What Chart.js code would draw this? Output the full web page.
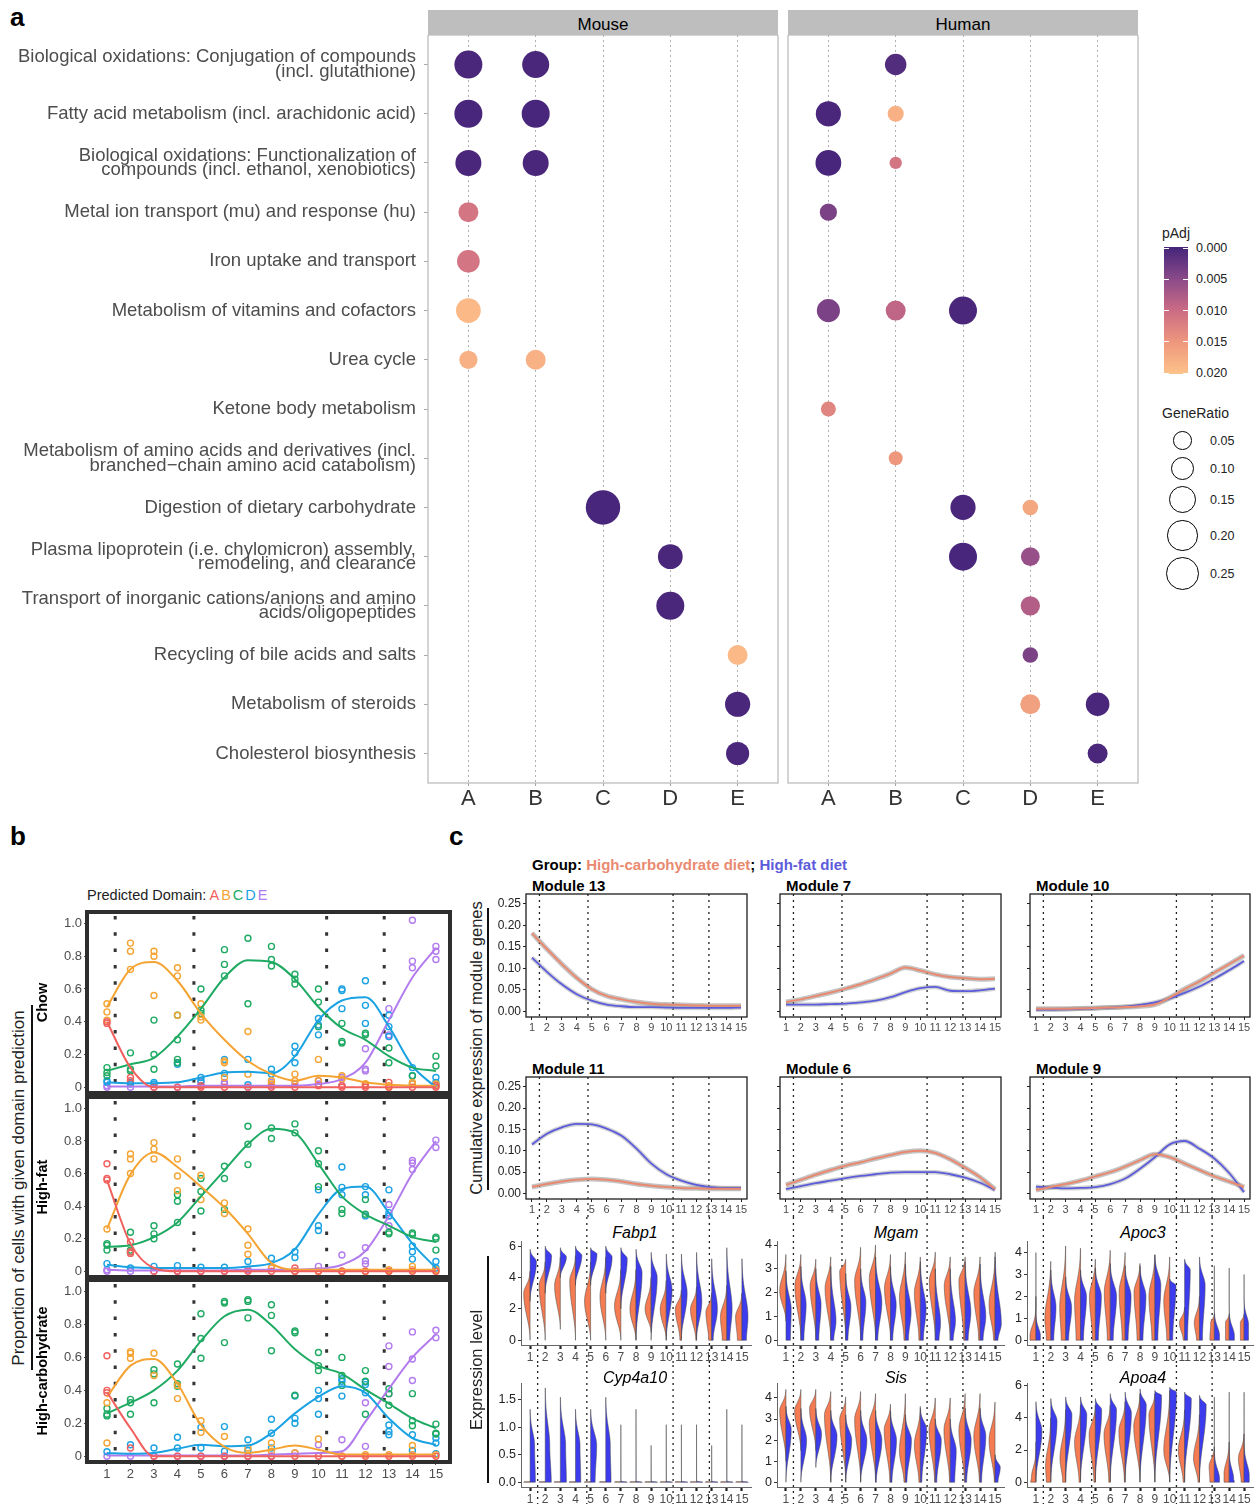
<!DOCTYPE html>
<html>
<head>
<meta charset="utf-8">
<script src="https://cdn.jsdelivr.net/npm/chart.js@4.4.1/dist/chart.umd.min.js"></script>
<style>
  body { margin: 0; width: 1254px; height: 1504px; background: #fff; position: relative; overflow: hidden; font-family: "Liberation Sans", Arial, sans-serif; color: #000; }
  canvas { position: absolute; }
  .t { position: absolute; white-space: nowrap; line-height: 1; }
</style>
</head>
<body>
<script>
// ---------- panel a: pathway enrichment ----------
const pathways = [
  ['Biological oxidations: Conjugation of compounds', '(incl. glutathione)'],
  'Fatty acid metabolism (incl. arachidonic acid)',
  ['Biological oxidations: Functionalization of', 'compounds (incl. ethanol, xenobiotics)'],
  'Metal ion transport (mu) and response (hu)',
  'Iron uptake and transport',
  'Metabolism of vitamins and cofactors',
  'Urea cycle',
  'Ketone body metabolism',
  ['Metabolism of amino acids and derivatives (incl.', 'branched\u2212chain amino acid catabolism)'],
  'Digestion of dietary carbohydrate',
  ['Plasma lipoprotein (i.e. chylomicron) assembly,', 'remodeling, and clearance'],
  ['Transport of inorganic cations/anions and amino', 'acids/oligopeptides'],
  'Recycling of bile acids and salts',
  'Metabolism of steroids',
  'Cholesterol biosynthesis'
];
const domains = ['A', 'B', 'C', 'D', 'E'];

const mouseRow = [1, 1, 2, 2, 3, 3, 4, 5, 6, 7, 7, 10, 11, 12, 13, 14, 15];
const mouseDomain = ['A', 'B', 'A', 'B', 'A', 'B', 'A', 'A', 'A', 'A', 'B', 'C', 'D', 'D', 'E', 'E', 'E'];
const mouseGeneRatio = [0.148, 0.134, 0.148, 0.148, 0.120, 0.120, 0.053, 0.079, 0.104, 0.039, 0.053, 0.258, 0.104, 0.148, 0.053, 0.109, 0.085];
const mousePAdj = [0.0004, 0.0004, 0.0003, 0.0003, 0.0004, 0.0004, 0.011, 0.011, 0.019, 0.018, 0.018, 0.0002, 0.0004, 0.0004, 0.019, 0.0004, 0.0004];

const humanRow = [1, 2, 2, 3, 3, 4, 6, 6, 6, 8, 9, 10, 10, 11, 11, 12, 13, 14, 14, 15];
const humanDomain = ['B', 'A', 'B', 'A', 'B', 'A', 'A', 'B', 'C', 'A', 'B', 'C', 'D', 'C', 'D', 'D', 'D', 'D', 'E', 'E'];
const humanGeneRatio = [0.067, 0.109, 0.024, 0.117, 0.007, 0.031, 0.085, 0.053, 0.148, 0.018, 0.013, 0.109, 0.021, 0.148, 0.043, 0.048, 0.021, 0.053, 0.090, 0.053];
const humanPAdj = [0.001, 0.0004, 0.018, 0.0003, 0.011, 0.004, 0.004, 0.009, 0.0004, 0.013, 0.015, 0.0004, 0.017, 0.0003, 0.006, 0.008, 0.004, 0.016, 0.0004, 0.0004];

const padjBreaks = [0, 0.005, 0.010, 0.015, 0.020];
const padjColors = ['#44247a', '#8a4a89', '#cc6c84', '#ee977d', '#fdc28a'];
const geneRatioBreaks = [0.05, 0.10, 0.15, 0.20, 0.25];

// ---------- panel b: domain proportions ----------
const clusters = [1, 2, 3, 4, 5, 6, 7, 8, 9, 10, 11, 12, 13, 14, 15];
const domainColors = ['#f0605d', '#f5a433', '#1faa63', '#1aa2e3', '#b27bee'];
const boundariesB = [1.35, 4.7, 10.35, 12.8];

const chowPtsA = [[0.40, 0.39], [0.06, 0.04], [0], [0], [0, 0.01], [0], [0], [0], [0], [0.01], [0.01, 0], [0, 0.01], [0.03, 0], [0], [0.01, 0]];
const chowPtsB = [[0.51, 0.46, 0.41], [0.88, 0.83, 0.72], [0.83, 0.80, 0.56], [0.73, 0.68, 0.44], [0.51, 0.43, 0.41], [0.16, 0.15, 0.06], [0.34, 0.08], [0.04, 0.02], [0.08, 0.04], [0.17, 0.04], [0.07, 0.05], [0.02, 0.02], [0.01, 0], [0.03, 0.02], [0.02, 0.01]];
const chowPtsC = [[0.12, 0.09, 0.07], [0.21, 0.11, 0.10], [0.41, 0.20, 0.11], [0.44, 0.29, 0.17, 0.15], [0.60, 0.47, 0.45], [0.84, 0.75, 0.68], [0.91, 0.51], [0.86, 0.78, 0.74], [0.69, 0.66, 0.63], [0.60, 0.52, 0.37], [0.39, 0.28, 0.27], [0.33, 0.32], [0.24, 0.15], [0.07], [0.19, 0.13]];
const chowPtsD = [[0.04, 0.03], [0.02, 0.03], [0.03, 0.02], [0.15, 0.14], [0.04, 0.06], [0.17, 0.085], [0.17, 0.015], [0.11, 0.08], [0.25, 0.21, 0.15], [0.42, 0.38, 0.32], [0.60, 0.59, 0.48], [0.65, 0.50, 0.39], [0.44, 0.37, 0.31], [0.12, 0.07, 0.02], [0.06, 0.03, 0.01]];
const chowPtsE = [[0, 0.01], [0], [0], [0], [0.03, 0.01], [0.03, 0.02], [0], [0.03, 0.01], [0.02], [0.04, 0.02], [0.06, 0.01], [0.235, 0.11, 0.10], [0.48, 0.32, 0.31], [1.02, 0.77, 0.73], [0.86, 0.83, 0.78]];
const chowFitA = [0.40, 0.12, 0, 0, 0, 0, 0, 0, 0, 0, 0, 0, 0, 0, 0];
const chowFitB = [0.49, 0.72, 0.765, 0.65, 0.45, 0.29, 0.16, 0.08, 0.04, 0.07, 0.06, 0.03, 0.015, 0.01, 0.01];
const chowFitC = [0.10, 0.14, 0.18, 0.31, 0.48, 0.67, 0.775, 0.765, 0.66, 0.49, 0.36, 0.29, 0.19, 0.12, 0.10];
const chowFitD = [0.03, 0.025, 0.025, 0.03, 0.06, 0.09, 0.095, 0.085, 0.19, 0.41, 0.53, 0.55, 0.37, 0.13, 0];
const chowFitE = [0.005, 0.005, 0.005, 0.005, 0.01, 0.01, 0.01, 0.01, 0.01, 0.02, 0.05, 0.15, 0.41, 0.67, 0.85];

const hfPtsA = [[0.66, 0.57, 0.56], [0.18, 0.12, 0.11], [0], [0], [0], [0], [0], [0], [0.02, 0], [0], [0], [0], [0], [0], [0]];
const hfPtsB = [[0.26], [0.72, 0.69, 0.60], [0.79, 0.75, 0.69], [0.69, 0.585, 0.495], [0.59, 0.44], [0.42, 0.355], [0.26, 0.16, 0.105], [0.02], [0], [0], [0], [0], [0.01, 0], [0.03, 0.01], [0.01, 0]];
const hfPtsC = [[0.17, 0.16, 0.13], [0.24, 0.13, 0.12], [0.28, 0.23, 0.20], [0.47, 0.43, 0.30], [0.57, 0.49, 0.37], [0.645, 0.57, 0.38], [0.89, 0.78, 0.655], [0.88, 0.815], [0.905, 0.85], [0.74, 0.66, 0.52], [0.38, 0.355], [0.44, 0.35], [0.24, 0.23], [0.235, 0.225], [0.21, 0.20, 0.13]];
const hfPtsD = [[0.047], [0.02], [0.03], [0.035], [0.025], [0.025], [0.06], [0.08], [0.12, 0.085], [0.50, 0.28, 0.25], [0.64, 0.515, 0.47], [0.52, 0.47, 0.34], [0.50, 0.36, 0.34], [0.155, 0.12, 0.075], [0.06, 0.02]];
const hfPtsE = [[0, 0.01], [0], [0], [0], [0], [0], [0.01], [0.02], [0], [0.03], [0.10, 0], [0.145, 0.065, 0.045], [0.41, 0.34, 0.28], [0.68, 0.665, 0.625], [0.805, 0.76]];
const hfFitA = [0.56, 0.17, 0.02, 0, 0, 0, 0, 0, 0, 0, 0, 0, 0, 0, 0];
const hfFitB = [0.26, 0.595, 0.73, 0.64, 0.52, 0.39, 0.23, 0.05, 0.01, 0.01, 0.01, 0.01, 0.01, 0.01, 0.01];
const hfFitC = [0.15, 0.16, 0.21, 0.30, 0.46, 0.62, 0.78, 0.875, 0.85, 0.66, 0.46, 0.35, 0.28, 0.21, 0.18];
const hfFitD = [0.04, 0.025, 0.02, 0.02, 0.02, 0.02, 0.03, 0.05, 0.135, 0.35, 0.505, 0.52, 0.36, 0.17, 0.02];
const hfFitE = [0.01, 0.005, 0.005, 0.005, 0.005, 0.005, 0.01, 0.01, 0.01, 0.015, 0.04, 0.125, 0.34, 0.60, 0.80];

const hcPtsA = [[0.61, 0.40, 0.385], [0.05], [0], [0], [0], [0], [0], [0], [0], [0], [0], [0], [0], [0], [0]];
const hcPtsB = [[0.325, 0.08], [0.635, 0.625, 0.595], [0.625, 0.49], [0.43, 0.35], [0.215, 0.145], [0.12], [0.05], [0.08, 0.03], [0.02], [0.105], [0], [0.01], [0.01], [0.065, 0.01], [0.01]];
const hcPtsC = [[0.29, 0.255, 0.245], [0.345, 0.325, 0.255], [0.525, 0.50, 0.325], [0.56, 0.44, 0.425], [0.865, 0.715, 0.595], [0.94, 0.93, 0.69], [0.95, 0.94, 0.84], [0.92, 0.855, 0.64], [0.76, 0.75, 0.37], [0.63, 0.55, 0.52], [0.60, 0.49, 0.43], [0.52, 0.455, 0.255], [0.41, 0.38, 0.31], [0.38, 0.215, 0.185], [0.195, 0.14, 0.135]];
const hcPtsD = [[0.027], [0.07], [0.05], [0.115, 0.05], [0.175, 0.05], [0.18, 0.03], [0.10, 0.035], [0.225, 0.14, 0.05], [0.365, 0.23, 0.20], [0.40, 0.35, 0.255], [0.47, 0.455, 0.365], [0.45, 0.435, 0.385], [0.19, 0.15, 0.13], [0.13, 0.035], [0.11, 0.08, 0.015]];
const hcPtsE = [[0], [0], [0], [0], [0], [0], [0], [0], [0.02], [0.07], [0.10], [0.325, 0.06], [0.67, 0.545, 0.38], [0.755, 0.59, 0.46], [0.765, 0.72]];
const hcFitA = [0.39, 0.17, 0, 0, 0, 0, 0, 0, 0, 0, 0, 0, 0, 0, 0];
const hcFitB = [0.36, 0.55, 0.59, 0.44, 0.19, 0.057, 0.02, 0.04, 0.065, 0.04, 0.01, 0.01, 0.01, 0.01, 0.01];
const hcFitC = [0.26, 0.325, 0.40, 0.52, 0.70, 0.85, 0.89, 0.795, 0.65, 0.55, 0.50, 0.405, 0.32, 0.23, 0.17];
const hcFitD = [0.02, 0.015, 0.02, 0.045, 0.07, 0.06, 0.065, 0.14, 0.26, 0.36, 0.425, 0.385, 0.23, 0.11, 0.07];
const hcFitE = [0.005, 0.005, 0.005, 0.005, 0.005, 0.005, 0.005, 0.01, 0.015, 0.02, 0.03, 0.21, 0.41, 0.60, 0.74];

// ---------- panel c: module expression ----------
const boundariesC = [1.5, 4.75, 10.45, 12.85];
const mod13HC = [0.182, 0.145, 0.110, 0.078, 0.052, 0.036, 0.028, 0.022, 0.018, 0.016, 0.015, 0.014, 0.013, 0.013, 0.013];
const mod13HF = [0.125, 0.092, 0.063, 0.040, 0.025, 0.016, 0.012, 0.010, 0.010, 0.009, 0.008, 0.008, 0.008, 0.008, 0.009];
const mod7HC = [0.022, 0.028, 0.036, 0.044, 0.053, 0.063, 0.075, 0.088, 0.102, 0.095, 0.086, 0.080, 0.077, 0.075, 0.076];
const mod7HF = [0.016, 0.016, 0.016, 0.017, 0.018, 0.021, 0.025, 0.033, 0.045, 0.054, 0.057, 0.048, 0.047, 0.049, 0.053];
const mod10HC = [0.006, 0.006, 0.006, 0.007, 0.008, 0.009, 0.010, 0.012, 0.016, 0.032, 0.052, 0.070, 0.090, 0.110, 0.130];
const mod10HF = [0.004, 0.004, 0.005, 0.006, 0.007, 0.009, 0.011, 0.015, 0.021, 0.030, 0.043, 0.058, 0.076, 0.096, 0.117];
const mod11HC = [0.015, 0.022, 0.028, 0.032, 0.034, 0.032, 0.028, 0.022, 0.018, 0.015, 0.013, 0.012, 0.011, 0.011, 0.011];
const mod11HF = [0.115, 0.140, 0.155, 0.163, 0.162, 0.152, 0.135, 0.105, 0.070, 0.045, 0.030, 0.020, 0.015, 0.013, 0.013];
const mod6HC = [0.020, 0.032, 0.044, 0.055, 0.065, 0.073, 0.082, 0.090, 0.097, 0.100, 0.095, 0.080, 0.060, 0.038, 0.010];
const mod6HF = [0.010, 0.017, 0.024, 0.030, 0.036, 0.041, 0.045, 0.049, 0.050, 0.050, 0.050, 0.045, 0.037, 0.025, 0.008];
const mod9HC = [0.008, 0.015, 0.022, 0.030, 0.040, 0.050, 0.063, 0.078, 0.092, 0.085, 0.070, 0.055, 0.040, 0.028, 0.015];
const mod9HF = [0.016, 0.014, 0.012, 0.013, 0.015, 0.022, 0.035, 0.058, 0.085, 0.115, 0.123, 0.105, 0.082, 0.048, 0.003];
const moduleTicks = [0, 0.05, 0.10, 0.15, 0.20, 0.25];

// violin halves per cluster: [low, high, mode, width at mode, width at low, (upper spread)]
const fabp1HC = [[0, 4.4, 3.0, 0.42, 0], [0, 5.0, 3.5, 0.40, 0], [0.7, 5.3, 3.5, 0.38, 0], [0, 5.4, 3.8, 0.38, 0], [0, 5.0, 2.5, 0.40, 0], [0, 5.3, 2.8, 0.38, 0], [0, 4.5, 2.2, 0.42, 0], [0, 4.5, 2.0, 0.40, 0], [0.5, 4.0, 2.0, 0.40, 0], [0, 3.8, 2.0, 0.40, 0], [0, 3.2, 2.0, 0.40, 0.10], [0, 3.4, 2.0, 0.40, 0.05], [0, 3.0, 1.8, 0.38, 0.20], [0, 3.5, 1.5, 0.42, 0.30], [0, 3.0, 1.5, 0.42, 0.30]];
const fabp1HF = [[2.5, 5.8, 5.0, 0.42, 0], [3.0, 6.0, 5.4, 0.42, 0], [4.0, 5.9, 5.3, 0.40, 0], [3.5, 6.0, 5.4, 0.42, 0], [3.5, 5.9, 5.5, 0.42, 0], [3.0, 6.0, 5.3, 0.42, 0], [2.0, 5.9, 5.2, 0.42, 0], [0, 5.8, 4.3, 0.40, 0], [0, 5.6, 4.0, 0.40, 0], [0, 5.5, 3.2, 0.38, 0], [0, 5.5, 3.0, 0.38, 0], [0, 5.6, 2.5, 0.35, 0], [0, 5.2, 2.0, 0.38, 0.10], [0, 5.9, 2.0, 0.35, 0.20], [0, 5.2, 1.5, 0.40, 0.30]];
const mgamHC = [[0.8, 3.6, 2.1, 0.42, 0], [0, 3.6, 2.3, 0.40, 0], [0, 3.4, 2.3, 0.38, 0], [0, 3.5, 2.2, 0.38, 0], [0, 3.4, 2.9, 0.40, 0], [0, 3.9, 2.5, 0.40, 0], [0, 4.0, 2.6, 0.42, 0], [0, 3.6, 2.2, 0.40, 0], [0, 3.7, 1.8, 0.40, 0.10], [0, 3.5, 2.0, 0.40, 0.10], [0, 3.7, 2.5, 0.40, 0], [0, 3.5, 2.3, 0.40, 0], [0, 3.5, 2.5, 0.42, 0.10], [0, 3.5, 2.0, 0.42, 0.10], [0, 3.5, 1.5, 0.40, 0.10]];
const mgamHF = [[0, 2.9, 1.3, 0.35, 0.30], [0, 3.1, 1.5, 0.35, 0.20], [0, 3.0, 1.5, 0.35, 0.20], [0, 3.1, 0.8, 0.35, 0.20], [0, 2.8, 1.4, 0.35, 0.15], [0, 3.0, 1.6, 0.35, 0.15], [0, 3.5, 1.6, 0.42, 0.15], [0, 3.1, 1.5, 0.38, 0.15], [0, 3.2, 1.2, 0.38, 0.20], [0, 3.3, 1.3, 0.38, 0.20], [0, 3.0, 0.7, 0.35, 0.25], [0, 3.0, 0.8, 0.35, 0.20], [0, 3.3, 1.2, 0.38, 0.20], [0, 3.2, 1.0, 0.38, 0.20], [0, 3.7, 0.7, 0.42, 0.20]];
const apoc3HC = [[0, 4.0, 0.2, 0.40, 0.40, 0.45], [0, 3.6, 1.0, 0.40, 0.30], [0, 4.3, 1.5, 0.40, 0.30], [0, 4.2, 1.8, 0.40, 0.30], [0, 3.7, 2.0, 0.40, 0.20], [0, 4.1, 2.2, 0.40, 0.20], [0, 4.0, 2.2, 0.40, 0.20], [0, 3.5, 2.2, 0.40, 0.20], [0, 3.9, 2.0, 0.40, 0.20], [0, 3.8, 1.8, 0.40, 0.20], [0, 1.5, 0.8, 0.35, 0.10], [0, 2.0, 0.8, 0.35, 0.20], [0, 1.2, 0.8, 0.25, 0.30], [0, 1.2, 0.8, 0.25, 0.25], [0, 1.2, 0.8, 0.25, 0.25]];
const apoc3HF = [[0, 2.0, 0.2, 0.30, 0.30, 0.35], [0, 3.2, 1.5, 0.35, 0.20], [0, 2.9, 1.5, 0.40, 0.20], [0, 3.2, 2.0, 0.40, 0.20], [0, 3.3, 2.0, 0.40, 0.20], [0, 3.5, 2.0, 0.42, 0.20], [0, 3.4, 2.0, 0.40, 0.20], [0, 3.4, 2.0, 0.40, 0.20], [0, 3.9, 2.5, 0.40, 0.20], [0, 2.8, 2.5, 0.42, 0.20], [0, 3.7, 3.2, 0.38, 0.20], [0, 3.8, 2.5, 0.38, 0.20], [0, 3.4, 0.2, 0.35, 0.35, 0.4], [0, 3.3, 0.2, 0.35, 0.35, 0.4], [0, 3.0, 0.7, 0.30, 0.30, 0.4]];
const cyp4a10HC = clusters.map(() => [0, 0.01, 0, 0.42, 0.42]);
const cyp4a10HF = [[0, 1.33, 0.67, 0.30, 0.35], [0, 1.72, 0.67, 0.30, 0.40], [0, 1.55, 0.67, 0.35, 0.40], [0, 1.33, 0.67, 0.30, 0.35], [0, 1.33, 0.67, 0.40, 0.30], [0, 1.55, 0.67, 0.30, 0.35], [0, 1.05, 0.02, 0.006, 0.42], [0, 1.33, 0.02, 0.006, 0.42], [0, 0.67, 0.02, 0.006, 0.42], [0, 1.05, 0.02, 0.006, 0.42], [0, 1.05, 0.02, 0.006, 0.42], [0, 1.05, 0.02, 0.006, 0.42], [0, 0.67, 0.02, 0.006, 0.42], [0, 1.33, 0.02, 0.006, 0.42], [0, 1.05, 0.02, 0.006, 0.42]];
const sisHC = [[1.0, 4.4, 3.4, 0.42, 0], [1.5, 4.4, 3.4, 0.42, 0], [1.5, 4.4, 3.5, 0.42, 0], [0, 4.3, 3.2, 0.42, 0], [0, 4.05, 3.0, 0.40, 0], [0, 4.3, 3.0, 0.40, 0], [0, 4.2, 2.8, 0.42, 0], [0, 3.7, 2.5, 0.42, 0.05], [0, 4.2, 1.5, 0.40, 0.10], [0, 3.6, 1.8, 0.40, 0.10], [0, 4.0, 2.5, 0.42, 0.05], [0, 4.0, 2.5, 0.42, 0.05], [0, 4.2, 2.5, 0.42, 0.05], [0, 4.2, 2.2, 0.42, 0.05], [0, 3.8, 2.0, 0.40, 0.05]];
const sisHF = [[0, 3.6, 2.5, 0.35, 0], [0, 3.5, 2.0, 0.38, 0], [0.7, 3.5, 2.3, 0.38, 0], [0, 3.4, 2.2, 0.42, 0], [0, 3.2, 2.0, 0.40, 0], [0, 3.4, 2.0, 0.42, 0], [0, 3.4, 2.0, 0.42, 0.05], [0, 3.4, 2.0, 0.40, 0.10], [0, 3.2, 2.0, 0.40, 0.10], [0, 3.5, 2.5, 0.42, 0.10], [0, 3.0, 2.0, 0.40, 0.10], [0, 3.0, 1.5, 0.40, 0.30], [0, 3.5, 2.0, 0.40, 0.10], [0, 3.5, 2.2, 0.38, 0.10], [0, 1.3, 0.7, 0.35, 0.20]];
const apoa4HC = [[0, 2.5, 0.3, 0.30, 0.35, 0.6], [0, 4.0, 1.0, 0.35, 0.30], [0, 4.5, 1.5, 0.38, 0.20], [0, 4.8, 2.5, 0.40, 0.10], [0, 4.8, 3.0, 0.42, 0.10], [0, 4.8, 3.0, 0.42, 0.10], [0, 5.0, 3.2, 0.42, 0.05], [0, 5.5, 3.5, 0.42, 0], [0, 5.5, 4.2, 0.40, 0], [0, 5.7, 2.0, 0.40, 0], [0, 4.5, 2.0, 0.42, 0.10], [0, 4.2, 1.5, 0.40, 0.10], [0, 2.2, 1.0, 0.35, 0.30], [0, 2.5, 0.5, 0.35, 0.35], [0, 3.0, 1.5, 0.38, 0.20]];
const apoa4HF = [[0, 5.0, 3.2, 0.40, 0], [0, 5.2, 3.8, 0.42, 0], [0, 5.3, 4.2, 0.42, 0], [0, 5.3, 4.2, 0.42, 0], [0, 5.2, 4.5, 0.42, 0], [0, 5.5, 4.5, 0.42, 0], [0, 5.6, 4.3, 0.42, 0], [0, 5.8, 4.8, 0.42, 0], [0, 5.7, 5.4, 0.45, 0], [0, 5.9, 5.6, 0.45, 0], [0, 5.6, 5.2, 0.45, 0], [0, 5.4, 4.8, 0.45, 0], [0, 5.3, 0.2, 0.35, 0.35, 0.6], [0, 5.6, 0.2, 0.30, 0.35, 0.6], [0, 5.6, 0.4, 0.35, 0.35, 0.7]];

const hcColor = '#e98a70', hfColor = '#5c5cdb';
const hcFill = '#f47b52', hfFill = '#3c3cee';

// ---------- helpers ----------
Chart.defaults.font.family = '"Liberation Sans", Arial, sans-serif';
Chart.defaults.animation = false;
Chart.defaults.responsive = false;
Chart.defaults.events = [];
Chart.defaults.layout.autoPadding = false;
Chart.defaults.plugins.legend.display = false;
Chart.defaults.plugins.tooltip.enabled = false;

function canvasAt(l, t, w, h) {
  const c = document.createElement('canvas');
  c.width = w; c.height = h;
  c.style.left = l + 'px'; c.style.top = t + 'px';
  document.body.appendChild(c);
  return c;
}
function text(html, x, y, css, tf) {
  const d = document.createElement('div');
  d.className = 't';
  d.innerHTML = html;
  d.style.left = x + 'px'; d.style.top = y + 'px';
  d.style.transform = tf || 'translate(0,-50%)';
  if (css) d.style.cssText += css;
  document.body.appendChild(d);
  return d;
}
function box(x, y, w, h, css) {
  const d = document.createElement('div');
  d.style.cssText = 'position:absolute;left:' + x + 'px;top:' + y + 'px;width:' + w + 'px;height:' + h + 'px;' + (css || '');
  document.body.appendChild(d);
  return d;
}
const fixW = w => s => { s.width = w; s.paddingLeft = s.paddingRight = s.paddingTop = s.paddingBottom = 0; };
const fixH = h => s => { s.height = h; s.paddingLeft = s.paddingRight = s.paddingTop = s.paddingBottom = 0; };
const setTicks = vals => s => { s.ticks = vals.map(v => ({ value: v })); };

function hexRgb(h) { return [1, 3, 5].map(i => parseInt(h.slice(i, i + 2), 16)); }
function padjColor(p) {
  let i = 0;
  while (i < padjBreaks.length - 2 && p > padjBreaks[i + 1]) i++;
  const t = Math.max(0, Math.min(1, (p - padjBreaks[i]) / (padjBreaks[i + 1] - padjBreaks[i])));
  const a = hexRgb(padjColors[i]), b = hexRgb(padjColors[i + 1]);
  return 'rgb(' + a.map((v, k) => Math.round(v + (b[k] - v) * t)).join(',') + ')';
}
const ratioRadius = g => 4 + 26 * Math.sqrt(g);

const frame = {
  id: 'frame',
  afterDatasetsDraw(chart, args, o) {
    if (!o.width) return;
    const { ctx, chartArea: a } = chart;
    ctx.save();
    ctx.strokeStyle = o.color; ctx.lineWidth = o.width;
    ctx.strokeRect(a.left, a.top, a.right - a.left, a.bottom - a.top);
    ctx.restore();
  }
};
const vlines = {
  id: 'vlines',
  beforeDatasetsDraw(chart, args, o) {
    if (!o.at) return;
    const { ctx, chartArea: a } = chart;
    const sx = chart.scales.x;
    const y0 = o.fromTop ? 0 : a.top + (o.inset || 0);
    const y1 = o.toBottom ? chart.height : a.bottom;
    ctx.save();
    ctx.strokeStyle = o.color; ctx.lineWidth = o.width; ctx.setLineDash(o.dash);
    o.at.forEach(v => {
      const px = sx.getPixelForValue(v);
      ctx.beginPath(); ctx.moveTo(px, y0); ctx.lineTo(px, y1); ctx.stroke();
    });
    ctx.restore();
  }
};
const violins = {
  id: 'violins',
  afterDatasetsDraw(chart) {
    const { ctx } = chart;
    const sx = chart.scales.x, sy = chart.scales.y;
    chart.data.datasets.forEach(ds => {
      if (!ds.violin) return;
      ctx.save();
      ctx.fillStyle = ds.fill; ctx.strokeStyle = '#444'; ctx.lineWidth = 0.5;
      ds.violin.forEach((v, i) => {
        if (!v) return;
        const [lo, hi, pk, pw, bw] = v;
        const spread = v[5] || Math.max((hi - pk) / 2.8, 0.02);
        const cx = clusters[i], n = 24, pts = [];
        for (let k = 0; k <= n; k++) {
          const t = k / n;
          pts.push([lo + (pk - lo) * t, bw + (pw - bw) * (1 - Math.cos(Math.PI * t)) / 2]);
        }
        for (let k = 1; k <= 40; k++) {
          const y = pk + (hi - pk) * k / 40;
          pts.push([y, pw * Math.exp(-0.5 * Math.pow((y - pk) / spread, 2))]);
        }
        ctx.beginPath();
        ctx.moveTo(sx.getPixelForValue(cx), sy.getPixelForValue(lo));
        pts.forEach(([y, w]) => ctx.lineTo(sx.getPixelForValue(cx + ds.side * w), sy.getPixelForValue(y)));
        ctx.lineTo(sx.getPixelForValue(cx), sy.getPixelForValue(hi));
        ctx.closePath();
        ctx.fill(); ctx.stroke();
      });
      ctx.restore();
    });
  }
};
Chart.register(frame, vlines, violins);

// ---------- panel a ----------
text('a', 10, 17, 'font-weight:bold;font-size:26px;');
box(428, 10, 350, 25, 'background:#bebebe;');
box(788, 10, 350, 25, 'background:#bebebe;');
text('Mouse', 603, 24, 'font-size:17px;', 'translate(-50%,-50%)');
text('Human', 963, 24, 'font-size:17px;', 'translate(-50%,-50%)');

function enrichChart(left, width, pad, rowsArr, domArr, ratioArr, padjArr, showY) {
  return new Chart(canvasAt(left, 35, width, 780), {
    type: 'bubble',
    data: {
      datasets: [{
        data: rowsArr.map((r, i) => ({ x: domains.indexOf(domArr[i]) + 1, y: r, r: ratioRadius(ratioArr[i]) })),
        backgroundColor: padjArr.map(padjColor),
        borderWidth: 0,
        clip: false
      }]
    },
    options: {
      layout: { padding: pad },
      scales: {
        x: {
          type: 'linear', min: 0.4, max: 5.6,
          afterBuildTicks: setTicks([1, 2, 3, 4, 5]), afterFit: fixH(32),
          ticks: { callback: v => domains[v - 1], font: { size: 22 }, color: '#333', padding: 0, autoSkip: false, maxRotation: 0 },
          grid: { color: '#a8a8a8', lineWidth: 0.9, tickLength: 3, tickColor: '#999' },
          border: { display: false, dash: [2, 3] }
        },
        y: {
          type: 'linear', reverse: true, min: 0.4, max: 15.6, display: showY,
          afterBuildTicks: setTicks(pathways.map((p, i) => i + 1)),
          afterFit: showY ? fixW(428) : undefined,
          ticks: { callback: v => pathways[v - 1], font: { size: 18.5, lineHeight: 0.78 }, color: '#4d4d4d', padding: 8, autoSkip: false },
          grid: { drawOnChartArea: false, tickLength: 4, tickColor: '#a8a8a8' },
          border: { display: false }
        }
      },
      plugins: { frame: { color: '#b8b8b8', width: 1.2 } }
    }
  });
}
enrichChart(0, 780, { right: 2 }, mouseRow, mouseDomain, mouseGeneRatio, mousePAdj, true);
enrichChart(786, 354, { left: 2, right: 2 }, humanRow, humanDomain, humanGeneRatio, humanPAdj, false);

// legend: pAdj colour bar
text('pAdj', 1162, 233, 'font-size:14px;color:#222;');
const barTop = 247, barH = 127;
box(1164, barTop, 24, barH, 'background:linear-gradient(to bottom,' +
  padjColors.map((c, i) => c + ' ' + (i / (padjColors.length - 1) * 100).toFixed(1) + '%').join(',') + ');');
padjBreaks.forEach((b, i) => {
  const y = barTop + 1 + i * (barH - 2) / (padjBreaks.length - 1);
  box(1164, y - 0.5, 5, 1, 'background:#fff;');
  box(1183, y - 0.5, 5, 1, 'background:#fff;');
  text(b.toFixed(3), 1196, y, 'font-size:12.5px;color:#222;');
});
// legend: GeneRatio sizes
text('GeneRatio', 1162, 413, 'font-size:14px;color:#222;');
const keyY = [441, 469, 500, 536, 574];
geneRatioBreaks.forEach((g, i) => {
  const r = ratioRadius(g);
  box(1183 - r, keyY[i] - r, 2 * r - 3, 2 * r - 3, 'border:1.5px solid #000;border-radius:50%;');
  text(g.toFixed(2), 1210, keyY[i], 'font-size:12.5px;color:#222;');
});

// ---------- panel b ----------
text('b', 10, 836, 'font-weight:bold;font-size:26px;');
text('Predicted Domain: ' + domains.map((d, i) => '<span style="color:' + domainColors[i] + ';margin-right:2px">' + d + '</span>').join(''),
  87, 895, 'font-size:14.5px;color:#222;');
text('Proportion of cells with given domain prediction', 18, 1188, 'font-size:17px;color:#222;', 'translate(-50%,-50%) rotate(-90deg)');
box(31, 1005, 1.6, 365, 'background:#111;');

function domainChart(top, height, padBottom, title, pts, fits, showX) {
  const datasets = [];
  domainColors.forEach((col, d) => {
    datasets.push({
      type: 'line', data: fits[d].map((v, i) => ({ x: clusters[i], y: v })),
      borderColor: col, borderWidth: 2, pointRadius: 0, cubicInterpolationMode: 'monotone', order: 1
    });
    datasets.push({
      type: 'scatter', data: pts[d].flatMap((arr, i) => arr.map(v => ({ x: clusters[i], y: v }))),
      borderColor: col, backgroundColor: 'rgba(0,0,0,0)', pointRadius: 3, borderWidth: 1.4, order: 2
    });
  });
  return new Chart(canvasAt(30, top, 425, height), {
    type: 'scatter',
    data: { datasets },
    options: {
      layout: { padding: { top: 3, right: 5, bottom: padBottom } },
      scales: {
        x: {
          type: 'linear', min: 0.15, max: 15.6, display: showX,
          afterBuildTicks: setTicks(clusters), afterFit: showX ? fixH(22) : undefined,
          ticks: { font: { size: 13 }, color: '#4d4d4d', padding: 2, autoSkip: false, maxRotation: 0 },
          grid: { drawOnChartArea: false, tickLength: 3, tickColor: '#4d4d4d' },
          border: { display: false }
        },
        y: {
          type: 'linear', min: -0.035, max: 1.07,
          afterBuildTicks: setTicks([0, 0.2, 0.4, 0.6, 0.8, 1.0]), afterFit: fixW(57),
          ticks: { callback: v => v === 0 ? '0' : v.toFixed(1), font: { size: 13 }, color: '#4d4d4d', padding: 2 },
          grid: { drawOnChartArea: false, tickLength: 3, tickColor: '#4d4d4d' },
          border: { display: false },
          title: { display: true, text: title, font: { size: 14.5, weight: 'bold' }, color: '#000', padding: { top: 4, bottom: 0 } }
        }
      },
      plugins: {
        frame: { color: '#2e2e2e', width: 4 },
        vlines: { at: boundariesB, color: '#333', width: 3, dash: [3.5, 12.8], inset: 4 }
      }
    }
  });
}
domainChart(909, 187, 3, 'Chow',
  [chowPtsA, chowPtsB, chowPtsC, chowPtsD, chowPtsE], [chowFitA, chowFitB, chowFitC, chowFitD, chowFitE], false);
domainChart(1094, 186, 3, 'High-fat',
  [hfPtsA, hfPtsB, hfPtsC, hfPtsD, hfPtsE], [hfFitA, hfFitB, hfFitC, hfFitD, hfFitE], false);
domainChart(1277, 207, 0, 'High-carbohydrate',
  [hcPtsA, hcPtsB, hcPtsC, hcPtsD, hcPtsE], [hcFitA, hcFitB, hcFitC, hcFitD, hcFitE], true);

// ---------- panel c: module curves ----------
text('c', 449, 836, 'font-weight:bold;font-size:26px;');
text('Group: <span style="color:' + hcColor + '">High-carbohydrate diet</span>; <span style="color:' + hfColor + '">High-fat diet</span>',
  532, 864, 'font-size:15px;font-weight:bold;');
text('Cumulative expression of module genes', 476, 1048, 'font-size:16.5px;color:#222;', 'translate(-50%,-50%) rotate(-90deg)');
box(487, 908, 1.6, 282, 'background:#111;');
text('Expression level', 476, 1370, 'font-size:16.5px;color:#222;', 'translate(-50%,-50%) rotate(-90deg)');
box(487, 1256, 1.6, 227, 'background:#111;');

const colLeft = [526, 780, 1030], colWidth = [221, 221, 220];
const rowTop = [894, 1077], rowHeight = [123, 122];

function moduleChart(col, row, title, hc, hf) {
  const yW = col === 0 ? 42 : 4, xH = 19;
  const left = colLeft[col], top = rowTop[row];
  text(title, left + 6, top - 9, 'font-size:15px;font-weight:bold;');
  const line = (vals, color, width, order) => ({
    type: 'line', data: vals.map((v, i) => ({ x: clusters[i], y: v })),
    borderColor: color, borderWidth: width, pointRadius: 0, cubicInterpolationMode: 'monotone', order
  });
  return new Chart(canvasAt(left - yW, top - 2, yW + colWidth[col] + 2, 2 + rowHeight[row] + xH), {
    type: 'line',
    data: {
      datasets: [
        line(hc, hcColor, 2, 1), line(hf, hfColor, 1.8, 1),
        line(hc, 'rgba(125,125,125,0.45)', 5, 2), line(hf, 'rgba(125,125,125,0.35)', 4.5, 2)
      ]
    },
    options: {
      layout: { padding: { top: 2, right: 2 } },
      scales: {
        x: {
          type: 'linear', min: 0.6, max: 15.4,
          afterBuildTicks: setTicks(clusters), afterFit: fixH(xH),
          ticks: { font: { size: 11 }, color: '#4d4d4d', padding: 1, autoSkip: false, maxRotation: 0 },
          grid: { drawOnChartArea: false, tickLength: 3, tickColor: '#222' },
          border: { display: false }
        },
        y: {
          type: 'linear', min: -0.013, max: 0.273,
          afterBuildTicks: setTicks(moduleTicks), afterFit: fixW(yW),
          ticks: { display: col === 0, callback: v => v.toFixed(2), font: { size: 12 }, color: '#222', padding: 2 },
          grid: { drawOnChartArea: false, tickLength: 3, tickColor: '#222' },
          border: { display: false }
        }
      },
      plugins: {
        frame: { color: '#1e1e1e', width: 1.3 },
        vlines: { at: boundariesC, color: '#222', width: 1.3, dash: [2, 4], toBottom: row === 1 }
      }
    }
  });
}
moduleChart(0, 0, 'Module 13', mod13HC, mod13HF);
moduleChart(1, 0, 'Module 7', mod7HC, mod7HF);
moduleChart(2, 0, 'Module 10', mod10HC, mod10HF);
moduleChart(0, 1, 'Module 11', mod11HC, mod11HF);
moduleChart(1, 1, 'Module 6', mod6HC, mod6HF);
moduleChart(2, 1, 'Module 9', mod9HC, mod9HF);

// ---------- panel c: split violins ----------
const vLeft = [521, 777, 1027], vRight = [751, 1004, 1253];
const vTop = [1241, 1383], vBottom = [1345.5, 1487.5], vCanvasTop = [1217, 1365];
const vTitleX = [635, 896, 1143], vTitleY = [1233, 1378];

function violinChart(col, row, gene, hc, hf, ymin, ymax, yticks, fmt) {
  const yW = 30, xH = 20;
  text(gene, vTitleX[col], vTitleY[row], 'font-size:16px;font-style:italic;', 'translate(-50%,-50%)');
  const ds = (arr, side, fill) => ({
    type: 'scatter', data: arr.map((v, i) => v ? { x: clusters[i], y: v[1] } : null),
    pointRadius: 0, violin: arr, side, fill
  });
  return new Chart(canvasAt(vLeft[col] - yW, vCanvasTop[row], yW + vRight[col] - vLeft[col] + 1, vBottom[row] - vCanvasTop[row] + xH), {
    type: 'scatter',
    data: { datasets: [ds(hc, -1, hcFill), ds(hf, 1, hfFill)] },
    options: {
      layout: { padding: { top: vTop[row] - vCanvasTop[row], right: 1 } },
      scales: {
        x: {
          type: 'linear', min: 0.4, max: 15.6,
          afterBuildTicks: setTicks(clusters), afterFit: fixH(xH),
          ticks: { font: { size: 12 }, color: '#4d4d4d', padding: 1.5, autoSkip: false, maxRotation: 0 },
          grid: { drawOnChartArea: false, tickLength: 4, tickWidth: 2.2, tickColor: '#222' },
          border: { display: true, color: '#666', width: 1 }
        },
        y: {
          type: 'linear', min: ymin, max: ymax,
          afterBuildTicks: setTicks(yticks), afterFit: fixW(yW),
          ticks: { callback: fmt, font: { size: 12.5 }, color: '#222', padding: 2 },
          grid: { drawOnChartArea: false, tickLength: 3, tickColor: '#333' },
          border: { display: true, color: '#666', width: 1 }
        }
      },
      plugins: {
        vlines: { at: boundariesC, color: '#222', width: 1.3, dash: [2, 4], fromTop: true, toBottom: true }
      }
    }
  });
}
const intFmt = v => String(v);
violinChart(0, 0, 'Fabp1', fabp1HC, fabp1HF, -0.3, 6.33, [0, 2, 4, 6], intFmt);
violinChart(1, 0, 'Mgam', mgamHC, mgamHF, -0.2, 4.17, [0, 1, 2, 3, 4], intFmt);
violinChart(2, 0, 'Apoc3', apoc3HC, apoc3HF, -0.22, 4.53, [0, 1, 2, 3, 4], intFmt);
violinChart(0, 1, 'Cyp4a10', cyp4a10HC, cyp4a10HF, -0.087, 1.81, [0, 0.5, 1.0, 1.5], v => v.toFixed(1));
violinChart(1, 1, 'Sis', sisHC, sisHF, -0.226, 4.71, [0, 1, 2, 3, 4], intFmt);
violinChart(2, 1, 'Apoa4', apoa4HC, apoa4HF, -0.3, 6.17, [0, 2, 4, 6], intFmt);
</script>
</body>
</html>
